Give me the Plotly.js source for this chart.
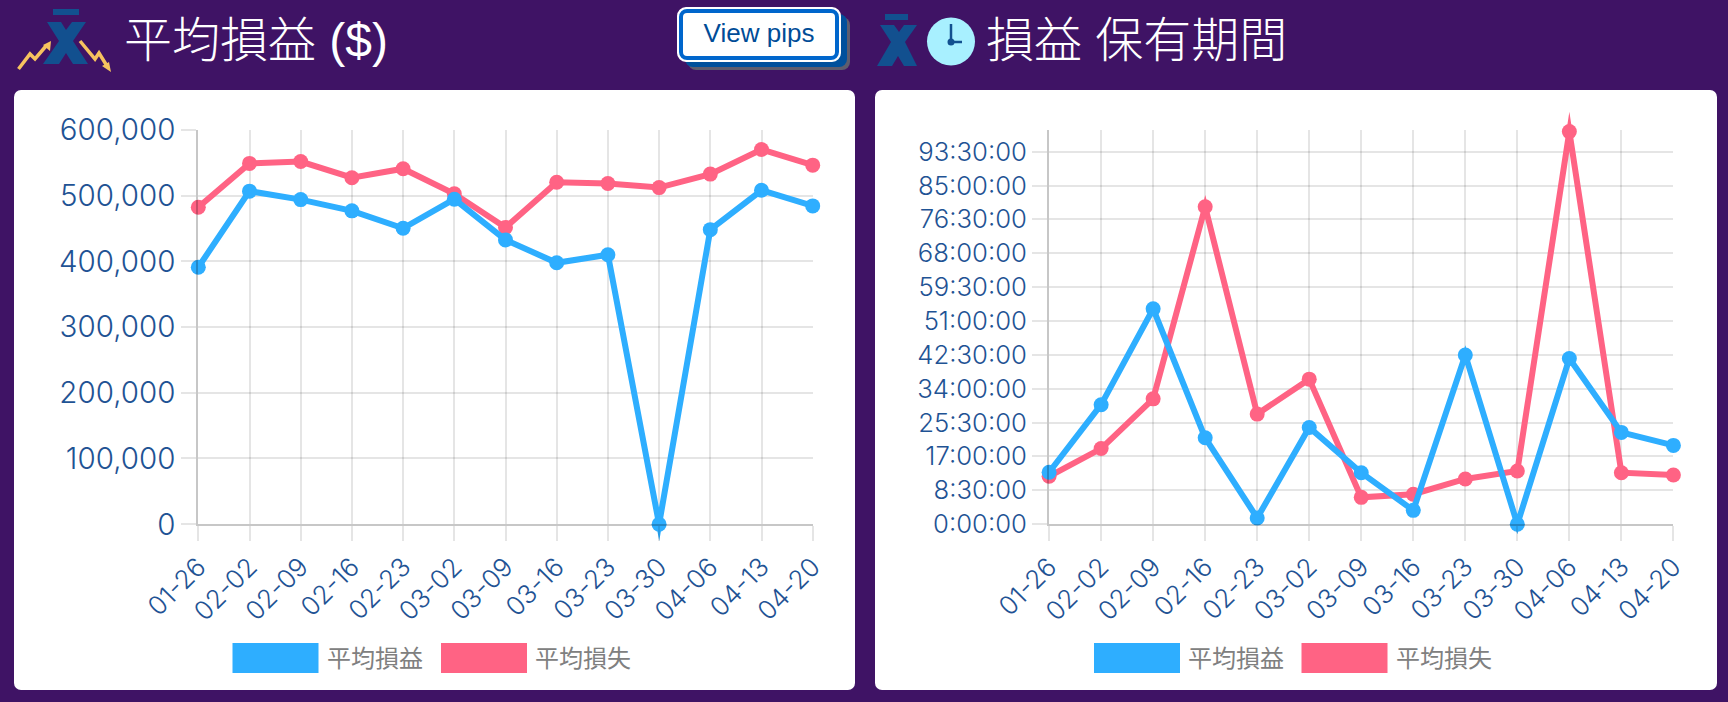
<!DOCTYPE html>
<html><head><meta charset="utf-8">
<script src="https://cdn.plot.ly/plotly-3.0.1.min.js"></script>
<style>
html,body{margin:0;padding:0;width:1728px;height:702px;overflow:hidden;background:#3f1365;}
.card{position:absolute;background:#fff;border-radius:7px;top:90px;height:600px;}
#plot{position:absolute;left:0;top:0;width:1728px;height:702px;}
.title{position:absolute;color:#fff;font-family:"Liberation Sans","Noto Sans CJK JP";font-size:48px;line-height:60px;top:11px;white-space:pre;font-weight:300;}
.btn{position:absolute;left:677px;top:7px;width:164px;height:55px;box-sizing:border-box;background:#fff;border:2px solid #fff;border-radius:9px;box-shadow:7px 6px 0 -1px #00509c,10px 9px 0 -1px #5d5d6e;}
.btn div{box-sizing:border-box;width:100%;height:100%;border:4px solid #0066cc;border-radius:8px;color:#004c97;font:26px "Liberation Sans";text-align:center;line-height:41px;}
svg.ic{position:absolute;left:0;top:0;}
</style></head><body>
<div class="card" style="left:14px;width:841px"></div>
<div class="card" style="left:875px;width:842px"></div>
<svg class="ic" width="1728" height="90">
 <g fill="#12508f">
  <rect x="53" y="9" width="26" height="6"/>
  <path d="M47 22h14l5 8 6-8h14l-13 19 15 23h-15l-7-11-7 11H43l16-23z"/>
  <rect x="885" y="14" width="23" height="6"/>
  <path d="M880 25h14l5 7 5-7h13l-12 17 12 24h-13l-6-10-6 10h-15l14-24z"/>
 </g>
 <g fill="none" stroke="#f7c35f" stroke-width="3.5">
  <path d="M18.500 69L30 54l5 5 11-13"/>
  <path d="M80 41l15 18 4-6 8 13"/>
 </g>
 <path d="M51 41l-1 10-7-6zM111 72l-2-10-7 4z" fill="#f7c35f"/>
 <circle cx="951" cy="41.500" r="24" fill="#a8f0ff"/>
 <path d="M951 24v18h11" fill="none" stroke="#12508f" stroke-width="2.500"/>
 <circle cx="951" cy="42" r="3.500" fill="#12508f"/>
</svg>
<div class="title" style="left:124px">平均損益 ($)</div>
<div class="title" style="left:986px">損益 保有期間</div>
<div class="btn"><div>View pips</div></div>
<div id="plot"></div>
<script>
const weeks = ["01-26","02-02","02-09","02-16","02-23","03-02","03-09","03-16","03-23","03-30","04-06","04-13","04-20"];
const seriesNames = ["平均損益","平均損失"];
const avgProfit = [390900,506700,493800,476700,450200,494400,432500,397700,410000,0,448100,508000,484200];
const avgLoss = [482200,548900,551700,527100,540800,502600,451500,520300,518300,512100,532600,570000,546200];
const holdProfit = [13.04,30.0,54.05,21.69,1.57,24.27,12.92,3.48,42.48,0,41.58,23.04,19.78];
const holdLoss = [12.02,18.99,31.46,79.67,27.64,36.41,6.74,7.53,11.35,13.37,98.55,12.92,12.36];
const holdTickVals = [0,8.5,17,25.5,34,42.5,51,59.5,68,76.5,85,93.5];
const holdTickText = ["0:00:00","8:30:00","17:00:00","25:30:00","34:00:00","42:30:00","51:00:00","59:30:00","68:00:00","76:30:00","85:00:00","93:30:00"];

const BLUE="#2eaeff", RED="#ff6384", TICK="#1f5394", GRID="rgba(0,0,0,0.10)", AX="rgba(0,0,0,0.22)";
const W=1728,H=702;
const px=x=>x/W, py=y=>1-y/H;
function trace(name,y,color,ax){return {type:"scatter",mode:"lines+markers",name,x:weeks,y,xaxis:"x"+ax,yaxis:"y"+ax,
  cliponaxis:false,line:{color,width:6,shape:"linear"},marker:{color,size:15},showlegend:false,hoverinfo:"skip"};}
const xf={family:"Inter",size:26,weight:300,color:TICK};
function xa(l,r,anchor){return {domain:[px(l),px(r)],anchor,type:"category",range:[0,12],tickangle:-45,tickfont:xf,
  showgrid:true,gridcolor:GRID,gridwidth:2,ticks:"outside",ticklen:15,tickcolor:GRID,tickwidth:2,
  showline:true,linecolor:AX,linewidth:2,automargin:false,fixedrange:true};}
function ya(anchor,size,extra){return Object.assign({domain:[py(524.2),py(129.8)],anchor,tickfont:{family:"Inter",size,weight:300,color:TICK},
  showgrid:true,gridcolor:GRID,gridwidth:2,ticks:"outside",ticklen:15,tickcolor:GRID,tickwidth:2,zeroline:false,
  showline:true,linecolor:AX,linewidth:2,automargin:false,fixedrange:true},extra);}
function leg(x0,color){return {type:"rect",xref:"paper",yref:"paper",x0:px(x0),x1:px(x0+86),y0:py(673),y1:py(643),fillcolor:color,line:{width:0},layer:"above"};}
function legT(x,text){return {xref:"paper",yref:"paper",x:px(x),y:py(656),xanchor:"left",yanchor:"middle",text,showarrow:false,font:{family:"Noto Sans CJK JP",size:24,color:"#808080"}};}
const data=[trace(seriesNames[1],avgLoss,RED,""),trace(seriesNames[0],avgProfit,BLUE,""),
            trace(seriesNames[1],holdLoss,RED,"2"),trace(seriesNames[0],holdProfit,BLUE,"2")];
const layout={width:W,height:H,margin:{l:0,r:0,t:0,b:0},paper_bgcolor:"rgba(0,0,0,0)",plot_bgcolor:"rgba(0,0,0,0)",
  xaxis:xa(198.3,812.7,"y"),
  yaxis:ya("x",29.5,{range:[0,600000],tickvals:[0,100000,200000,300000,400000,500000,600000],tickformat:",d"}),
  xaxis2:xa(1049.1,1673.4,"y2"),
  yaxis2:ya("x2",25.7,{range:[0,99],tickvals:holdTickVals,ticktext:holdTickText}),
  shapes:[leg(232.5,BLUE),leg(441,RED),leg(1094,BLUE),leg(1301.5,RED)],
  annotations:[legT(325,seriesNames[0]),legT(533,seriesNames[1]),legT(1186,seriesNames[0]),legT(1394,seriesNames[1])]};
function sharpen(){document.querySelectorAll("#plot path.js-line").forEach(p=>{
  p.removeAttribute("clip-path");
  p.style.setProperty("stroke-linejoin","miter","important");
  p.style.setProperty("stroke-miterlimit","10","important");
});}
Plotly.newPlot("plot",data,layout,{displayModeBar:false,staticPlot:true}).then(sharpen);
</script></body></html>
